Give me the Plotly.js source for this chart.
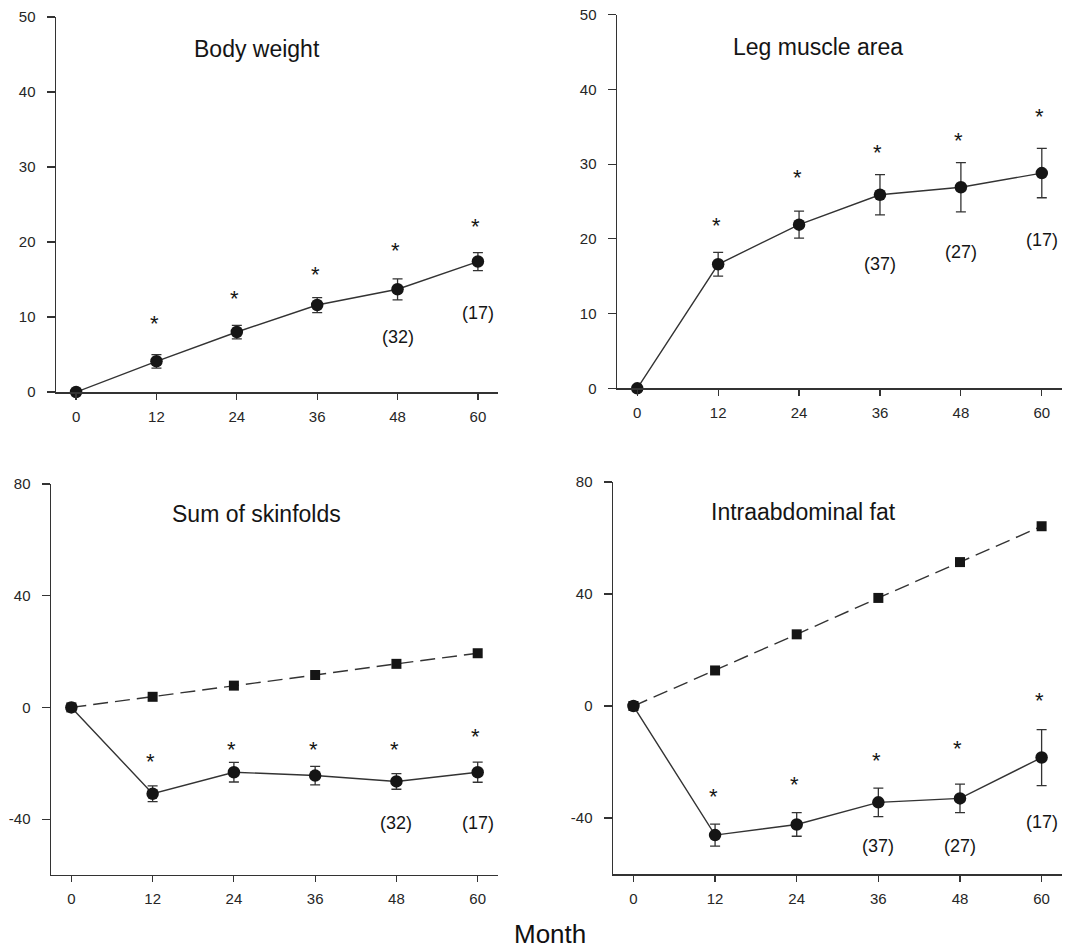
<!DOCTYPE html>
<html>
<head>
<meta charset="utf-8">
<script src="https://cdn.plot.ly/plotly-3.0.1.min.js"></script>
<style>
  html, body { margin: 0; padding: 0; background: #ffffff; }
  #chart { width: 1077px; height: 952px; }
</style>
</head>
<body>
<div id="chart"></div>
<script>
// ---- data ----
const months = [0, 12, 24, 36, 48, 60];
const monthTicks = ['0', '12', '24', '36', '48', '60'];
const topYTicks = [0, 10, 20, 30, 40, 50];
const topYLabels = ['0', '10', '20', '30', '40', '50'];
const bottomYTicks = [-40, 0, 40, 80];
const bottomYLabels = ['-40', '0', '40', '80'];

const bodyWeightMean = [0, 4.1, 8.0, 11.6, 13.7, 17.4];
const bodyWeightErr  = [0, 0.9, 0.9, 1.0, 1.4, 1.2];
const bodyWeightStar = [null, 9.8, 13.1, 16.4, 19.5, 22.8];
const bodyWeightNx   = [48, 60];
const bodyWeightNy   = [7.4, 10.5];
const bodyWeightN    = ['(32)', '(17)'];

const legMuscleMean = [0, 16.6, 21.9, 25.9, 26.9, 28.8];
const legMuscleErr  = [0, 1.6, 1.8, 2.7, 3.3, 3.3];
const legMuscleStar = [null, 22.4, 28.9, 32.2, 33.8, 37.0];
const legMuscleNx   = [36, 48, 60];
const legMuscleNy   = [16.7, 18.3, 19.9];
const legMuscleN    = ['(37)', '(27)', '(17)'];

const skinfoldMean    = [0, -30.9, -23.2, -24.4, -26.5, -23.2];
const skinfoldErr     = [0, 2.8, 3.5, 3.3, 2.8, 3.6];
const skinfoldControl = [0, 3.8, 7.8, 11.6, 15.6, 19.4];
const skinfoldStar    = [null, -17.7, -13.3, -13.3, -13.1, -8.8];
const skinfoldNx      = [48, 60];
const skinfoldNy      = [-41.5, -41.5];
const skinfoldN       = ['(32)', '(17)'];

const abdFatMean    = [0, -46.1, -42.3, -34.4, -33.0, -18.4];
const abdFatErr     = [0, 3.9, 4.2, 5.1, 5.1, 10.0];
const abdFatControl = [0, 12.7, 25.6, 38.6, 51.4, 64.2];
const abdFatStar    = [null, -30.7, -26.4, -17.7, -13.3, 3.6];
const abdFatNx      = [36, 48, 60];
const abdFatNy      = [-50, -50, -41.4];
const abdFatN       = ['(37)', '(27)', '(17)'];

const panelTitles = ['Body weight', 'Leg muscle area', 'Sum of skinfolds', 'Intraabdominal fat'];
const xAxisTitle = 'Month';

// ---- styling ----
const FONT = 'Liberation Sans, Arial, Helvetica, sans-serif';
const INK = '#151515';
const AX = '#333333';

function meanTrace(y, err, xa, ya) {
  return {
    type: 'scatter', mode: 'lines+markers', x: months, y: y, xaxis: xa, yaxis: ya,
    line: { color: AX, width: 1.4 },
    marker: { symbol: 'circle', size: 12.5, color: INK },
    error_y: { type: 'data', array: err, visible: true, color: AX, thickness: 1.3, width: 5 },
    cliponaxis: false, showlegend: false, hoverinfo: 'x+y'
  };
}
function controlTrace(y, xa, ya) {
  return {
    type: 'scatter', mode: 'lines+markers', x: months, y: y, xaxis: xa, yaxis: ya,
    line: { color: AX, width: 1.4, dash: '15px,7px' },
    marker: { symbol: 'square', size: 10, color: INK },
    cliponaxis: false, showlegend: false, hoverinfo: 'x+y'
  };
}

const data = [
  meanTrace(bodyWeightMean, bodyWeightErr, 'x', 'y'),
  meanTrace(legMuscleMean, legMuscleErr, 'x2', 'y2'),
  controlTrace(skinfoldControl, 'x3', 'y3'),
  meanTrace(skinfoldMean, skinfoldErr, 'x3', 'y3'),
  controlTrace(abdFatControl, 'x4', 'y4'),
  meanTrace(abdFatMean, abdFatErr, 'x4', 'y4')
];

const annotations = [];
function addStars(vals, xr, yr) {
  vals.forEach((v, i) => {
    if (v === null) return;
    annotations.push({ x: months[i], y: v, xref: xr, yref: yr, text: '*', showarrow: false,
      xanchor: 'center', yanchor: 'middle', yshift: -5, xshift: -2,
      font: { family: FONT, size: 22, color: INK } });
  });
}
function addN(xs, ys, labels, xr, yr) {
  labels.forEach((t, i) => {
    annotations.push({ x: xs[i], y: ys[i], xref: xr, yref: yr, text: t, showarrow: false,
      xanchor: 'center', yanchor: 'middle',
      font: { family: FONT, size: 18, color: INK } });
  });
}
function addTitle(t, x, y, xr, yr) {
  annotations.push({ x: x, y: y, xref: xr, yref: yr, text: t, showarrow: false,
    xanchor: 'center', yanchor: 'middle', font: { family: FONT, size: 23, color: INK } });
}

addStars(bodyWeightStar, 'x', 'y');
addStars(legMuscleStar, 'x2', 'y2');
addStars(skinfoldStar, 'x3', 'y3');
addStars(abdFatStar, 'x4', 'y4');
addN(bodyWeightNx, bodyWeightNy, bodyWeightN, 'x', 'y');
addN(legMuscleNx, legMuscleNy, legMuscleN, 'x2', 'y2');
addN(skinfoldNx, skinfoldNy, skinfoldN, 'x3', 'y3');
addN(abdFatNx, abdFatNy, abdFatN, 'x4', 'y4');
addTitle(panelTitles[0], 27, 45.7, 'x', 'y');
addTitle(panelTitles[1], 26.8, 45.7, 'x2', 'y2');
addTitle(panelTitles[2], 27.3, 69.4, 'x3', 'y3');
addTitle(panelTitles[3], 25, 69.4, 'x4', 'y4');
annotations.push({ x: 0.5107, y: 0, xref: 'paper', yref: 'paper', text: xAxisTitle,
  showarrow: false, xanchor: 'center', yanchor: 'bottom', yshift: 1,
  font: { family: FONT, size: 26, color: '#111' } });

function xAxis(domain, anchor) {
  return {
    domain: domain, anchor: anchor, range: [-3, 63],
    tickmode: 'array', tickvals: months, ticktext: monthTicks,
    showline: true, linecolor: AX, linewidth: 1.5, ticks: 'outside', ticklen: 6,
    tickcolor: AX, tickwidth: 1.2, showgrid: false, zeroline: false,
    ticklabelstandoff: 4,
    tickfont: { family: FONT, size: 15, color: '#262626' }, fixedrange: true
  };
}
function yAxis(domain, anchor, range, vals, labels) {
  return {
    domain: domain, anchor: anchor, range: range,
    tickmode: 'array', tickvals: vals, ticktext: labels,
    showline: true, linecolor: AX, linewidth: 1.5, ticks: 'outside', ticklen: 8,
    tickcolor: AX, tickwidth: 1.2, showgrid: false, zeroline: false,
    ticklabelstandoff: 8,
    tickfont: { family: FONT, size: 15, color: '#262626' }, fixedrange: true
  };
}

const layout = {
  width: 1077, height: 952,
  margin: { l: 0, r: 0, t: 0, b: 0 },
  paper_bgcolor: '#ffffff', plot_bgcolor: '#ffffff',
  showlegend: false,
  font: { family: FONT, color: INK },
  xaxis:  xAxis([0.0520, 0.4624], 'y'),
  yaxis:  yAxis([0.5882, 0.9821], 'x', [0, 50], topYTicks, topYLabels),
  xaxis2: xAxis([0.5729, 0.9861], 'y2'),
  yaxis2: yAxis([0.5921, 0.9846], 'x2', [0, 50], topYTicks, topYLabels),
  xaxis3: xAxis([0.0474, 0.4624], 'y3'),
  yaxis3: yAxis([0.0809, 0.4916], 'x3', [-60, 80], bottomYTicks, bottomYLabels),
  xaxis4: xAxis([0.5692, 0.9861], 'y4'),
  yaxis4: yAxis([0.0819, 0.4937], 'x4', [-60, 80], bottomYTicks, bottomYLabels),
  annotations: annotations
};

Plotly.newPlot('chart', data, layout, { displayModeBar: false, staticPlot: true });
</script>
</body>
</html>
